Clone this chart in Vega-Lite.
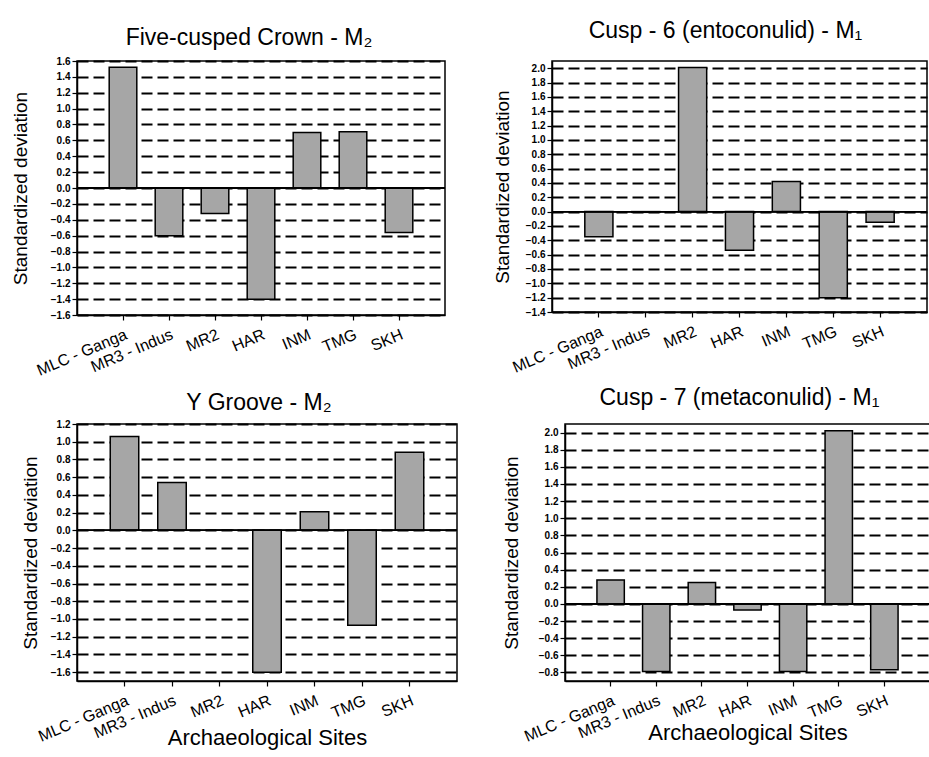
{
  "$schema": "https://vega.github.io/schema/vega-lite/v6.json",
  "padding": {"left": 10, "top": 19, "right": 0, "bottom": 0},
  "background": "white",
  "data": {"values": [
    {"panel": "P1", "site": "MLC - Ganga", "value": 1.52},
    {"panel": "P1", "site": "MR3 - Indus", "value": -0.6},
    {"panel": "P1", "site": "MR2", "value": -0.32},
    {"panel": "P1", "site": "HAR", "value": -1.4},
    {"panel": "P1", "site": "INM", "value": 0.7},
    {"panel": "P1", "site": "TMG", "value": 0.71},
    {"panel": "P1", "site": "SKH", "value": -0.56},
    {"panel": "P2", "site": "MLC - Ganga", "value": -0.35},
    {"panel": "P2", "site": "MR3 - Indus", "value": -0.01},
    {"panel": "P2", "site": "MR2", "value": 2.01},
    {"panel": "P2", "site": "HAR", "value": -0.54},
    {"panel": "P2", "site": "INM", "value": 0.42},
    {"panel": "P2", "site": "TMG", "value": -1.2},
    {"panel": "P2", "site": "SKH", "value": -0.15},
    {"panel": "P3", "site": "MLC - Ganga", "value": 1.06},
    {"panel": "P3", "site": "MR3 - Indus", "value": 0.54},
    {"panel": "P3", "site": "MR2", "value": 0.0},
    {"panel": "P3", "site": "HAR", "value": -1.6},
    {"panel": "P3", "site": "INM", "value": 0.21},
    {"panel": "P3", "site": "TMG", "value": -1.07},
    {"panel": "P3", "site": "SKH", "value": 0.88},
    {"panel": "P4", "site": "MLC - Ganga", "value": 0.28},
    {"panel": "P4", "site": "MR3 - Indus", "value": -0.79},
    {"panel": "P4", "site": "MR2", "value": 0.25},
    {"panel": "P4", "site": "HAR", "value": -0.07},
    {"panel": "P4", "site": "INM", "value": -0.79},
    {"panel": "P4", "site": "TMG", "value": 2.02},
    {"panel": "P4", "site": "SKH", "value": -0.77}
  ]},
  "spacing": 6,
  "vconcat": [
    {
      "spacing": 45,
      "hconcat": [
        {
          "width": 368, "height": 254,
          "title": {"text": "Five-cusped Crown - M₂", "offset": 6, "dx": -12},
          "transform": [{"filter": "datum.panel === 'P1'"}],
          "layer": [
            {"mark": {"type": "bar"},
             "encoding": {
               "x": {"field": "site", "type": "nominal", "sort": null, "scale": {"paddingInner": 0.4, "paddingOuter": 0.7}, "axis": {"title": null}},
               "y": {"field": "value", "type": "quantitative", "scale": {"domain": [-1.6, 1.6], "nice": false, "zero": false},
                     "axis": {"values": [-1.6, -1.4, -1.2, -1.0, -0.8, -0.6, -0.4, -0.2, 0, 0.2, 0.4, 0.6, 0.8, 1.0, 1.2, 1.4, 1.6], "tickCount": 40, "format": ".1f", "title": "Standardized deviation", "titlePadding": 20}}
             }},
            {"mark": {"type": "rule", "color": "black", "strokeWidth": 1.3}, "encoding": {"y": {"datum": 0}}}
          ]
        },
        {
          "width": 375, "height": 251,
          "title": {"text": "Cusp - 6 (entoconulid) - M₁", "offset": 18, "dx": -14},
          "transform": [{"filter": "datum.panel === 'P2'"}],
          "layer": [
            {"mark": {"type": "bar"},
             "encoding": {
               "x": {"field": "site", "type": "nominal", "sort": null, "scale": {"paddingInner": 0.4, "paddingOuter": 0.7}, "axis": {"title": null}},
               "y": {"field": "value", "type": "quantitative", "scale": {"domain": [-1.4, 2.1], "nice": false, "zero": false},
                     "axis": {"values": [-1.4, -1.2, -1.0, -0.8, -0.6, -0.4, -0.2, 0, 0.2, 0.4, 0.6, 0.8, 1.0, 1.2, 1.4, 1.6, 1.8, 2.0], "tickCount": 40, "format": ".1f", "title": "Standardized deviation", "titlePadding": 13}}
             }},
            {"mark": {"type": "rule", "color": "black", "strokeWidth": 1.3}, "encoding": {"y": {"datum": 0}}}
          ]
        }
      ]
    },
    {
      "spacing": 42,
      "hconcat": [
        {
          "width": 380, "height": 257,
          "title": {"text": "Y Groove - M₂", "offset": 4, "dx": -8},
          "transform": [{"filter": "datum.panel === 'P3'"}],
          "layer": [
            {"mark": {"type": "bar"},
             "encoding": {
               "x": {"field": "site", "type": "nominal", "sort": null, "scale": {"paddingInner": 0.4, "paddingOuter": 0.7}, "axis": {"title": "Archaeological Sites", "titlePadding": -17}},
               "y": {"field": "value", "type": "quantitative", "scale": {"domain": [-1.7, 1.2], "nice": false, "zero": false},
                     "axis": {"values": [-1.6, -1.4, -1.2, -1.0, -0.8, -0.6, -0.4, -0.2, 0, 0.2, 0.4, 0.6, 0.8, 1.0, 1.2], "tickCount": 40, "format": ".1f", "title": "Standardized deviation", "titlePadding": 10}}
             }},
            {"mark": {"type": "rule", "color": "black", "strokeWidth": 1.3}, "encoding": {"y": {"datum": 0}}}
          ]
        },
        {
          "width": 365, "height": 257,
          "title": {"text": "Cusp - 7 (metaconulid) - M₁", "offset": 14, "dx": -8},
          "transform": [{"filter": "datum.panel === 'P4'"}],
          "layer": [
            {"mark": {"type": "bar"},
             "encoding": {
               "x": {"field": "site", "type": "nominal", "sort": null, "scale": {"paddingInner": 0.4, "paddingOuter": 0.7}, "axis": {"title": "Archaeological Sites", "titlePadding": -22}},
               "y": {"field": "value", "type": "quantitative", "scale": {"domain": [-0.9, 2.1], "nice": false, "zero": false},
                     "axis": {"values": [-0.8, -0.6, -0.4, -0.2, 0, 0.2, 0.4, 0.6, 0.8, 1.0, 1.2, 1.4, 1.6, 1.8, 2.0], "tickCount": 40, "format": ".1f", "title": "Standardized deviation", "titlePadding": 17}}
             }},
            {"mark": {"type": "rule", "color": "black", "strokeWidth": 1.3}, "encoding": {"y": {"datum": 0}}}
          ]
        }
      ]
    }
  ],
  "config": {
    "font": "Liberation Sans",
    "view": {"stroke": "black", "strokeWidth": 1.5},
    "axis": {"domainColor": "black", "domainWidth": 1.5, "tickColor": "black", "tickWidth": 1.2, "labelColor": "black", "titleColor": "black", "titleFontWeight": "normal", "titleFont": "Liberation Sans", "labelFont": "Liberation Sans", "labelOverlap": false},
    "axisY": {"grid": true, "gridColor": "black", "gridDash": [11, 5], "gridWidth": 1.8, "gridOpacity": 1, "labelFontSize": 10, "labelFontWeight": "bold", "titleFontSize": 19, "tickSize": 5, "labelPadding": 2, "labelOverlap": false, "labelFlush": false, "tickCount": 40},
    "axisX": {"labelAngle": -23, "labelFontSize": 16, "grid": false, "tickSize": 5, "titleFontSize": 22, "labelPadding": 6, "labelOverlap": false},
    "title": {"fontSize": 23, "fontWeight": "normal", "color": "black", "font": "Liberation Sans"},
    "bar": {"fill": "#a6a6a6", "stroke": "black", "strokeWidth": 1.5}
  }
}
